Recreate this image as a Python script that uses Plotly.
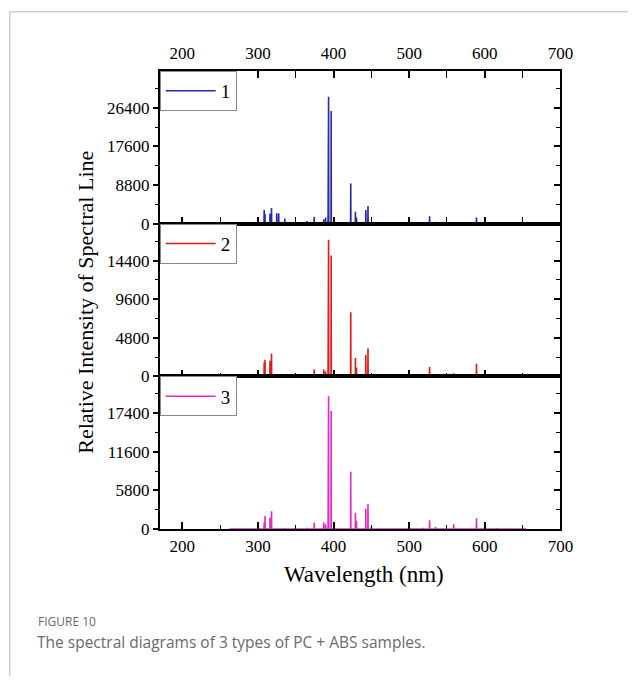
import plotly.graph_objects as go

# ---------------- data ----------------
wavelengths = [308.2, 309.3, 315.9, 317.9, 324.8, 327.4, 335.5, 365.0, 374.4, 387.0,
               389.5, 392.9, 393.4, 396.8, 422.7, 428.9, 430.3, 442.6, 445.5, 450.0,
               518.4, 527.0, 534.9, 558.9, 589.0, 616.0]
sample1 = [3100, 2200, 2300, 3600, 2400, 2300, 1200, 600, 1550, 1000,
           1400, 8300, 28900, 25700, 9180, 2700, 1400, 3100, 4000, 300,
           300, 1700, 400, 300, 1400, 200]
sample2 = [1750, 2070, 1950, 2850, 100, 100, 150, 200, 850, 850,
           600, 4700, 17000, 15050, 7970, 2280, 1100, 2680, 3500, 300,
           200, 1180, 300, 400, 1590, 150]
sample3 = [1000, 1970, 1720, 2700, 100, 100, 150, 200, 1000, 1000,
           700, 5400, 19930, 17710, 8600, 2460, 1230, 3050, 3790, 300,
           200, 1330, 300, 740, 1620, 150]
series_names = ["1", "2", "3"]
series_values = [sample1, sample2, sample3]
series_colors = ["#2a2aa8", "#e01b1b", "#e22cc6"]
spectrum_start, spectrum_end = 262, 655
x_range = [170, 700]
y_max = [34800, 19000, 22900]
y_major = [8800, 4800, 5800]

# ---------------- layout helpers ----------------
W, H = 641, 686
def fx(p): return p / W
def fy(p): return 1 - p / H

X0, X1 = 163, 572
panel_px = [(72, 227), (227, 382), (382, 537)]
SERIF = "Liberation Serif"

def spectrum(ws, hs, hw=0.2):
    xs, ys = [spectrum_start], [0]
    for w, h in sorted(zip(ws, hs)):
        xs += [w - hw, w, w + hw]
        ys += [0, h, 0]
    xs.append(spectrum_end)
    ys.append(0)
    return xs, ys

fig = go.Figure()
for i in range(3):
    xs, ys = spectrum(wavelengths, series_values[i])
    sfx = "" if i == 0 else str(i + 1)
    fig.add_trace(go.Scatter(
        x=xs, y=ys, mode="lines", name=series_names[i],
        line=dict(color=series_colors[i], width=1.6),
        xaxis="x" + sfx, yaxis="y" + sfx,
        legend="legend" + sfx, hoverinfo="skip"))
    # helper so the right-side (inward) tick axis is drawn
    fig.add_trace(go.Scatter(x=[None], y=[None], showlegend=False,
                             xaxis="x" + sfx, yaxis="y" + str(i + 4)))

tickfont = dict(family=SERIF, size=17, color="black")
layout = dict(width=W, height=H, autosize=False,
              margin=dict(l=0, r=0, t=0, b=0, pad=0),
              paper_bgcolor="white", plot_bgcolor="white", showlegend=True)

for i in range(3):
    sfx = "" if i == 0 else str(i + 1)
    top, bot = panel_px[i]
    xa = dict(domain=[fx(X0), fx(X1)], range=x_range, anchor="y" + sfx,
              showgrid=False, zeroline=False, showline=True, linecolor="black",
              linewidth=1.5, ticks="inside", ticklen=7, tickwidth=1.5,
              tickcolor="black", tick0=200, dtick=100, tickfont=tickfont,
              minor=dict(ticks="inside", ticklen=4, tickwidth=1.2, dtick=50,
                         tickcolor="black", showgrid=False))
    if i == 0:
        xa.update(side="top", mirror="allticks", showticklabels=True,
                  ticklabelstandoff=3)
    elif i == 1:
        xa.update(side="bottom", mirror=True, showticklabels=False)
    else:
        xa.update(side="bottom", mirror=True, showticklabels=True,
                  ticklabelstandoff=1)
    if i > 0:
        xa["matches"] = "x"
    layout["xaxis" + sfx] = xa

    ya = dict(domain=[fy(bot), fy(top)], range=[0, y_max[i]], anchor="x" + sfx,
              showgrid=False, zeroline=False, showline=True, linecolor="black",
              linewidth=1.5, mirror=True, ticks="outside", ticklen=5,
              tickwidth=1.5, tickcolor="black", tick0=0, dtick=y_major[i],
              tickformat="d", tickfont=tickfont,
              minor=dict(ticks="outside", ticklen=3, tickwidth=1.2,
                         dtick=y_major[i] / 2, tickcolor="black", showgrid=False))
    layout["yaxis" + sfx] = ya
    layout["yaxis" + str(i + 4)] = dict(
        overlaying="y" + sfx, side="right", anchor="x" + sfx,
        range=[0, y_max[i]], showgrid=False, zeroline=False, showline=False,
        showticklabels=False, ticks="inside", ticklen=6, tickwidth=1.5,
        tickcolor="black", tick0=0, dtick=y_major[i],
        minor=dict(ticks="inside", ticklen=4, tickwidth=1.2,
                   dtick=y_major[i] / 2, tickcolor="black", showgrid=False))

    layout["legend" + sfx] = dict(
        x=fx(X0), y=fy(top), xanchor="left", yanchor="top",
        bgcolor="white", bordercolor="#8a8a8a", borderwidth=1,
        font=dict(family=SERIF, size=19, color="black"),
        tracegroupgap=0, itemwidth=50)

fig.update_layout(**layout)

def note(x, y, text, font, xanchor="center", angle=0):
    fig.add_annotation(x=fx(x), y=fy(y), xref="paper", yref="paper",
                       xanchor=xanchor, yanchor="middle", text=text,
                       textangle=angle, showarrow=False, font=font)

note(87, 307, "Relative Intensity of Spectral Line",
     dict(family=SERIF, size=22, color="black"), angle=-90)
note(372, 583, "Wavelength (nm)", dict(family=SERIF, size=23, color="black"))
note(37, 631, "FIGURE 10", dict(family="Open Sans", size=12, color="#6a6a6a"),
     xanchor="left")
note(36, 652, "The spectral diagrams of 3 types of PC + ABS samples.",
     dict(family="Open Sans", size=15.5, color="#6a6a6a"), xanchor="left")

# card border (left and top edges)
fig.add_shape(type="line", xref="paper", yref="paper", x0=fx(10), x1=fx(10),
              y0=fy(12), y1=0, line=dict(color="#b5b5b5", width=1))
fig.add_shape(type="line", xref="paper", yref="paper", x0=fx(10), x1=1,
              y0=fy(12), y1=fy(12), line=dict(color="#b5b5b5", width=1))

fig.write_html("out.html", config={"responsive": False})
